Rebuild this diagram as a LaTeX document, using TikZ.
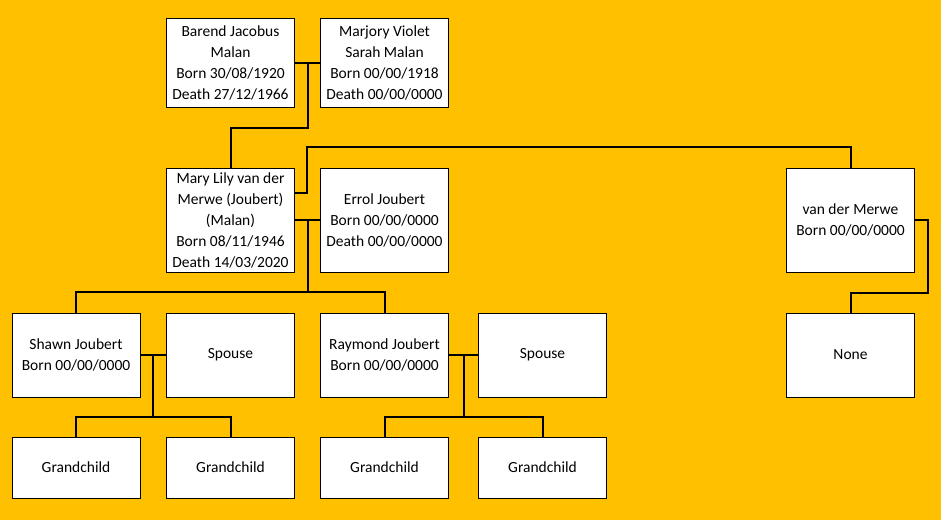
\documentclass[tikz,border=0pt]{standalone}
\usepackage{fontspec}
\setmainfont{Carlito}
\usetikzlibrary{calc, positioning}

\definecolor{treeorange}{HTML}{FFC000}

\begin{document}
\begin{tikzpicture}[x=1pt, y=-1pt,
    person/.style={draw=black, line width=1pt, fill=white, align=center,
        minimum width=128pt, inner sep=0pt, font=\fontsize{15.5}{21}\selectfont},
    link/.style={line width=2pt, black}]
    % Columns and rows (centres)
    \def\colA{76}
    \def\colB{230.5}
    \def\colC{384.5}
    \def\colD{542.5}
    \def\colE{850.5}
    \def\rowA{62.5}
    \def\rowB{220}
    \def\rowC{355}
    \def\rowD{467.5}

    % Background
    \fill[treeorange] (0,0) rectangle (941,520);

    % Grandparents
    \node[person, minimum height=89pt] (barend) at (\colB,\rowA) {Barend Jacobus\\Malan\\Born 30/08/1920\\Death 27/12/1966};
    \node[person, minimum height=89pt] (marjory) at (\colC,\rowA) {Marjory Violet\\Sarah Malan\\Born 00/00/1918\\Death 00/00/0000};

    % Parents
    \node[person, minimum height=104pt] (mary) at (\colB,\rowB) {Mary Lily van der\\Merwe (Joubert)\\(Malan)\\Born 08/11/1946\\Death 14/03/2020};
    \node[person, minimum height=104pt] (errol) at (\colC,\rowB) {Errol Joubert\\Born 00/00/0000\\Death 00/00/0000};
    \node[person, minimum height=104pt] (vdmerwe) at (\colE,\rowB) {van der Merwe\\Born 00/00/0000};

    % Children and spouses
    \node[person, minimum height=84pt] (shawn) at (\colA,\rowC) {Shawn Joubert\\Born 00/00/0000};
    \node[person, minimum height=84pt] (spouseA) at (\colB,\rowC) {Spouse};
    \node[person, minimum height=84pt] (raymond) at (\colC,\rowC) {Raymond Joubert\\Born 00/00/0000};
    \node[person, minimum height=84pt] (spouseB) at (\colD,\rowC) {Spouse};
    \node[person, minimum height=84pt] (none) at (\colE,\rowC) {None};

    % Grandchildren
    \node[person, minimum height=61pt] (grandA) at (\colA,\rowD) {Grandchild};
    \node[person, minimum height=61pt] (grandB) at (\colB,\rowD) {Grandchild};
    \node[person, minimum height=61pt] (grandC) at (\colC,\rowD) {Grandchild};
    \node[person, minimum height=61pt] (grandD) at (\colD,\rowD) {Grandchild};

    % Marriage of the grandparents, down to Mary
    \draw[link] (barend) -- (marjory);
    \coordinate (wedA) at ($(barend.east)!0.5!(marjory.west)$);
    \draw[link] (wedA) -- ++(0,65) -| (mary.north);

    % Mary and van der Merwe
    \draw[link] ([yshift=27pt]mary.east) -- ++(12,0) |- ([yshift=21pt]vdmerwe.north) -- (vdmerwe.north);
    \draw[link] (vdmerwe.east) -- ++(13,0) |- ([yshift=20pt]none.north) -- (none.north);

    % Mary and Errol, down to their sons
    \draw[link] (mary) -- (errol);
    \coordinate (wedB) at ($(mary.east)!0.5!(errol.west)$);
    \draw[link] (wedB) -- ++(0,72) coordinate (sons);
    \draw[link] (shawn.north) |- (sons) -| (raymond.north);

    % Shawn and spouse
    \draw[link] (shawn) -- (spouseA);
    \coordinate (wedC) at ($(shawn.east)!0.5!(spouseA.west)$);
    \draw[link] (wedC) -- ++(0,62) coordinate (kidsA);
    \draw[link] (grandA.north) |- (kidsA) -| (grandB.north);

    % Raymond and spouse
    \draw[link] (raymond) -- (spouseB);
    \coordinate (wedD) at ($(raymond.east)!0.5!(spouseB.west)$);
    \draw[link] (wedD) -- ++(0,62) coordinate (kidsB);
    \draw[link] (grandC.north) |- (kidsB) -| (grandD.north);
\end{tikzpicture}
\end{document}
